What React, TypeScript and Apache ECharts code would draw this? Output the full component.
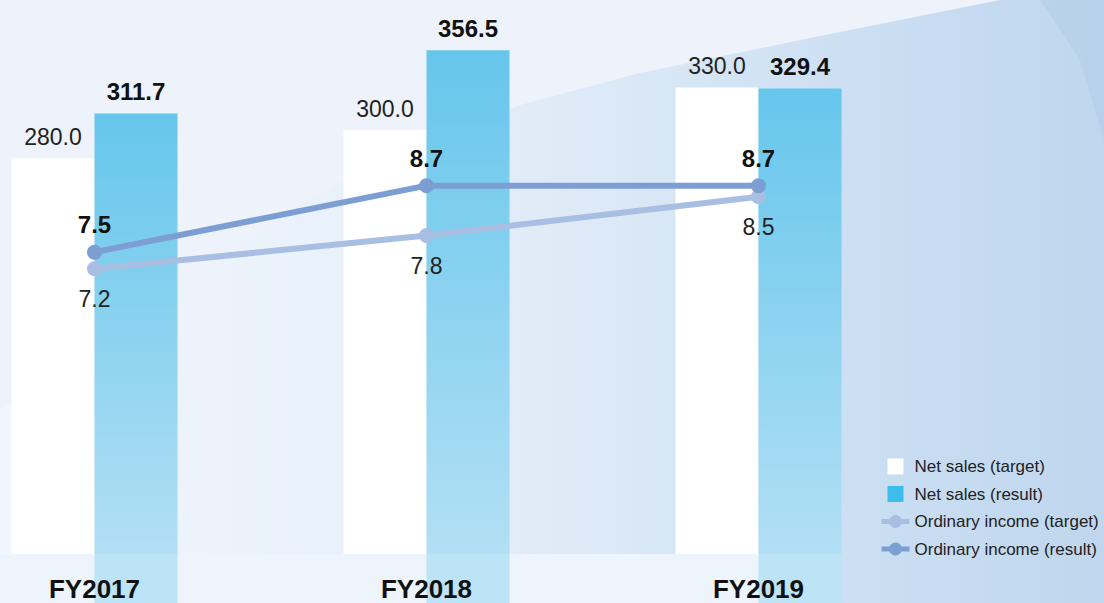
import { useEffect, useRef } from 'react';
import * as echarts from 'echarts';

const categories = ['FY2017', 'FY2018', 'FY2019'];
const netSalesTarget = [280.0, 300.0, 330.0];
const netSalesResult = [311.7, 356.5, 329.4];
const ordinaryIncomeTarget = [7.2, 7.8, 8.5];
const ordinaryIncomeResult = [7.5, 8.7, 8.7];
const resultBarFoot = [-34.7, -34.7, -34.7];
const seriesNames = [
  'Net sales (target)',
  'Net sales (result)',
  'Ordinary income (target)',
  'Ordinary income (result)',
];

const FONT = "'Liberation Sans', Arial, Helvetica, sans-serif";

export default function App() {
  const ref = useRef<HTMLDivElement>(null);
  useEffect(() => {
    document.body.style.margin = '0';
    if (!ref.current) return;
    const chart = echarts.init(ref.current, undefined, { renderer: 'svg' });
    const fmt1 = (p: any) => Number(p.value).toFixed(1);
    chart.setOption({
      animation: false,
      backgroundColor: '#EEF2FA',
      textStyle: { fontFamily: FONT },
      graphic: [
        {
          type: 'polygon',
          z: -10,
          silent: true,
          shape: {
            points: [
              [1104, 0], [1000, 0], [820, 36], [640, 73], [520, 105], [400, 150],
              [300, 205], [180, 285], [0, 410], [0, 603], [1104, 603],
            ],
          },
          style: {
            fill: new echarts.graphic.LinearGradient(0, 0, 1, 0, [
              { offset: 0, color: '#F1F6FC' },
              { offset: 0.3, color: '#E9F1FA' },
              { offset: 0.55, color: '#DCE9F6' },
              { offset: 0.78, color: '#CBDFF2' },
              { offset: 1, color: '#BFD6EE' },
            ]),
          },
        },
        {
          type: 'polygon',
          z: -9,
          silent: true,
          shape: { points: [[1040, 0], [1104, 0], [1104, 140], [1080, 60]] },
          style: { fill: 'rgba(170,196,230,0.3)' },
        },
        {
          type: 'rect',
          z: -8,
          silent: true,
          shape: { x: 0, y: 554, width: 841, height: 49 },
          style: { fill: '#EEF4FB' },
        },
      ],
      legend: {
        orient: 'vertical',
        left: 874,
        top: 453,
        itemWidth: 28,
        itemHeight: 16,
        itemGap: 10.5,
        textStyle: { fontSize: 17, color: '#222', fontFamily: FONT },
        data: [
          { name: seriesNames[0], icon: 'path://M0,0M28,16M6,0h16v16h-16z' },
          { name: seriesNames[1], icon: 'path://M0,0M28,16M6,0h16v16h-16z', itemStyle: { color: '#3DBDEA' } },
          { name: seriesNames[2], lineStyle: { width: 5 } },
          { name: seriesNames[3], lineStyle: { width: 5 } },
        ],
      },
      grid: { left: 94.5, right: 345.5, top: 0, bottom: 0, containLabel: false },
      xAxis: {
        type: 'category',
        data: categories,
        boundaryGap: false,
        z: 10,
        axisLine: { show: false },
        axisTick: { show: false },
        splitLine: { show: false },
        axisLabel: {
          inside: true,
          margin: 1,
          fontSize: 26,
          lineHeight: 26,
          fontWeight: 'bold',
          color: '#111',
          fontFamily: FONT,
        },
      },
      yAxis: [
        { type: 'value', min: -34.7, max: 392, show: false, splitLine: { show: false } },
        { type: 'value', min: 1.17, max: 12.05, show: false, splitLine: { show: false } },
      ],
      series: [
        {
          name: seriesNames[0],
          type: 'bar',
          data: netSalesTarget,
          barWidth: 83,
          barGap: '0%',
          itemStyle: { color: '#FFFFFF' },
          label: {
            show: true,
            position: 'top',
            distance: 10,
            formatter: fmt1,
            fontSize: 23,
            color: '#222',
            fontFamily: FONT,
          },
        },
        {
          name: seriesNames[1],
          type: 'bar',
          stack: 'result',
          data: netSalesResult,
          barWidth: 83,
          barGap: '0%',
          itemStyle: {
            color: new echarts.graphic.LinearGradient(0, 0, 0, 1, [
              { offset: 0, color: '#66C6EC' },
              { offset: 1, color: '#B2DFF4' },
            ]),
          },
          label: {
            show: true,
            position: 'top',
            distance: 10,
            formatter: fmt1,
            fontSize: 24,
            fontWeight: 'bold',
            color: '#111',
            fontFamily: FONT,
          },
        },
        {
          name: 'foot',
          type: 'bar',
          stack: 'result',
          data: resultBarFoot,
          barWidth: 83,
          barGap: '0%',
          silent: true,
          itemStyle: { color: '#BCE4F6' },
        },
        {
          name: seriesNames[2],
          type: 'line',
          yAxisIndex: 1,
          data: ordinaryIncomeTarget,
          symbol: 'circle',
          symbolSize: 15,
          lineStyle: { width: 6, color: '#A8BEE3' },
          itemStyle: { color: '#A8BEE3' },
          label: {
            show: true,
            position: 'bottom',
            distance: 11,
            formatter: fmt1,
            fontSize: 23,
            color: '#222',
            fontFamily: FONT,
          },
        },
        {
          name: seriesNames[3],
          type: 'line',
          yAxisIndex: 1,
          data: ordinaryIncomeResult,
          symbol: 'circle',
          symbolSize: 15,
          lineStyle: { width: 6, color: '#7C9ED3' },
          itemStyle: { color: '#7C9ED3' },
          label: {
            show: true,
            position: 'top',
            distance: 8,
            formatter: fmt1,
            fontSize: 24,
            fontWeight: 'bold',
            color: '#111',
            fontFamily: FONT,
          },
        },
      ],
    });
    return () => chart.dispose();
  }, []);
  return <div ref={ref} style={{ width: 1104, height: 603 }} />;
}
